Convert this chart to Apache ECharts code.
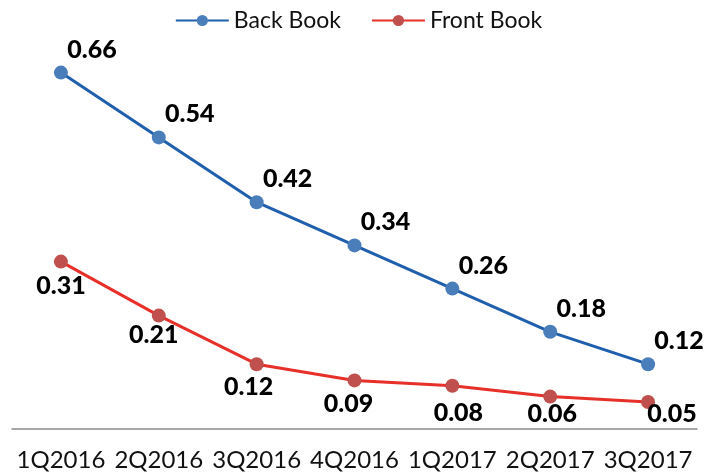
<!DOCTYPE html>
<html>
<head>
<meta charset="utf-8">
<script src="https://cdn.jsdelivr.net/npm/echarts@6/dist/echarts.min.js"></script>
<style>
  html, body { margin: 0; padding: 0; background: #fff; }
  #chart { width: 717px; height: 473px; }
</style>
</head>
<body>
<div id="chart"></div>
<script>
const categories = ['1Q2016', '2Q2016', '3Q2016', '4Q2016', '1Q2017', '2Q2017', '3Q2017']
const backBook = [0.66, 0.54, 0.42, 0.34, 0.26, 0.18, 0.12]
const frontBook = [0.31, 0.21, 0.12, 0.09, 0.08, 0.06, 0.05]

// label nudges for the lower series (style only)
const frontLabelOffsets = [[0, 24], [-5, 19], [-8, 23], [-6, 24], [6, 27], [2, 17], [24, 12]]

const font = 'Lato, "Open Sans", sans-serif'

const chart = echarts.init(document.getElementById('chart'))

const labelText = {
  fontFamily: font,
  fontSize: 25,
  fontWeight: 900,
  color: '#000'
}

chart.setOption({
  animation: false,
  legend: {
    top: 4,
    left: 'center',
    itemWidth: 53,
    itemHeight: 14,
    itemGap: 30,
    textStyle: { fontFamily: font, fontSize: 23, color: '#111' },
    data: ['Back Book', 'Front Book']
  },
  grid: { left: 12, right: 20, top: 51, bottom: 44, containLabel: false },
  xAxis: {
    type: 'category',
    data: categories,
    boundaryGap: true,
    axisLine: { lineStyle: { color: '#8c8c8c', width: 1.5 } },
    axisTick: { show: false },
    axisLabel: {
      margin: 19,
      interval: 0,
      fontFamily: font,
      fontSize: 24,
      color: '#111'
    }
  },
  yAxis: {
    type: 'value',
    min: 0,
    max: 0.7,
    show: false
  },
  series: [
    {
      name: 'Back Book',
      type: 'line',
      data: backBook,
      symbol: 'circle',
      symbolSize: 14,
      lineStyle: { color: '#1f5fad', width: 3 },
      itemStyle: { color: '#4a7ebb' },
      label: {
        show: true,
        position: 'inside',
        offset: [31, -23],
        formatter: (p) => p.value.toFixed(2),
        ...labelText
      }
    },
    {
      name: 'Front Book',
      type: 'line',
      data: frontBook.map((v, i) => ({
        value: v,
        label: { offset: frontLabelOffsets[i] }
      })),
      symbol: 'circle',
      symbolSize: 14,
      lineStyle: { color: '#e8302a', width: 3 },
      itemStyle: { color: '#c0504d' },
      label: {
        show: true,
        position: 'inside',
        formatter: (p) => p.value.toFixed(2),
        ...labelText
      }
    }
  ]
})
</script>
</body>
</html>
